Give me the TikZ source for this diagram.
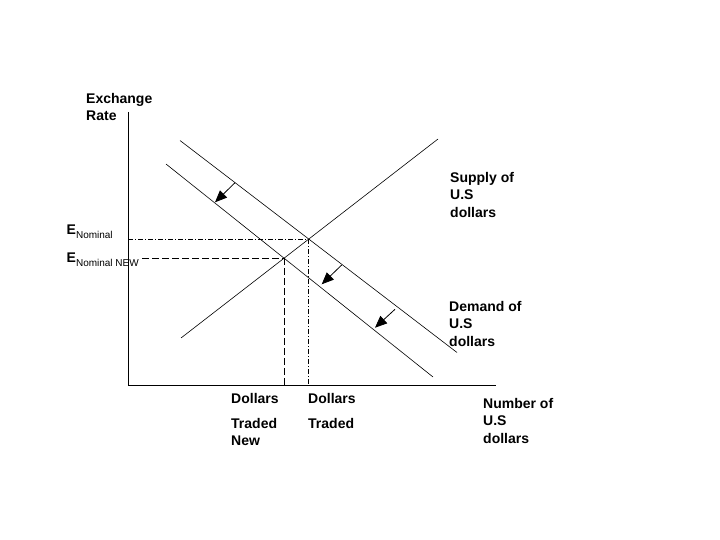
\documentclass[tikz,border=0pt]{standalone}
\usepackage{fontspec}
\setmainfont{Liberation Sans}
\usetikzlibrary{arrows.meta}
\tikzset{
  lbl/.style={font=\bfseries\fontsize{14}{17.5}\selectfont, align=left, anchor=north west, inner sep=0pt},
  elbl/.style={font=\bfseries\fontsize{14}{17.5}\selectfont, anchor=base west, inner sep=0pt},
  curve/.style={line width=0.6pt},
  guide/.style={line width=0.6pt, dash pattern=on 7pt off 3pt},
  guidedot/.style={line width=0.6pt, dash pattern=on 5pt off 2pt on 1pt off 2pt},
  movearrow/.style={line width=0.8pt, -{Triangle[length=12pt,width=10pt]}}
}
\newcommand{\esub}[1]{{\mdseries\fontsize{10}{11}\selectfont\raisebox{-4pt}{#1}}}
\begin{document}
\begin{tikzpicture}[x=1pt, y=-1pt]
			\useasboundingbox[fill=white] (0,0) rectangle (720,540);
			
			% axes
			\coordinate (O) at (128,385);
			\coordinate (ytop) at (128,112);
			\coordinate (xend) at (496,385);
			\draw[curve] (ytop) -- (O) -- (xend);
			
			% supply and the two demand curves
			\coordinate (S1) at (181,338);
			\coordinate (S2) at (438,139);
			\coordinate (D1a) at (180,140.5);
			\coordinate (D1b) at (457,352.5);
			\coordinate (D2a) at (166,164);
			\coordinate (D2b) at (433,377);
			\draw[curve] (S1) -- (S2);
			\draw[curve] (D1a) -- (D1b);
			\draw[curve] (D2a) -- (D2b);
			\coordinate (E0) at (intersection of S1--S2 and D1a--D1b);
			\coordinate (E1) at (intersection of S1--S2 and D2a--D2b);
			
			% labels
			\node (exrate) [lbl] at (86,92.8) {Exchange\\Rate};
			\node (supply) [lbl] at (450,171.8) {Supply of\\U.S\\dollars};
			\node (demand) [lbl] at (449,300.8) {Demand of\\U.S\\dollars};
			\node (tradednew) [lbl] at (231,392.8) {Dollars\\[7.5pt]Traded\\New};
			\node (traded) [lbl] at (308,392.8) {Dollars\\[7.5pt]Traded};
			\node (number) [lbl] at (483,397.8) {Number of\\U.S\\dollars};
			\node (enom) [elbl] at (66.5,234) {E\esub{Nominal}};
			\node (enew) [elbl] at (66.5,262) {E\esub{Nominal NEW}};
			
			% equilibrium guides
			\draw[guidedot] (O |- E0) -- (E0);
			\draw[guidedot] (E0) -- (E0 |- O);
			\draw[guide] ([xshift=3pt]enew.east |- E1) -- (E1);
			\draw[guide] (E1) -- (E1 |- O);
			
			% shift arrows
			\coordinate (a1) at (235,182.7);
			\coordinate (b1) at (215,202.3);
			\coordinate (a2) at (341.7,265);
			\coordinate (b2) at (321.7,284.3);
			\coordinate (a3) at (395,309.3);
			\coordinate (b3) at (375,327.7);
			\draw[movearrow] (a1) -- (b1);
			\draw[movearrow] (a2) -- (b2);
			\draw[movearrow] (a3) -- (b3);
		\end{tikzpicture}
\end{document}
